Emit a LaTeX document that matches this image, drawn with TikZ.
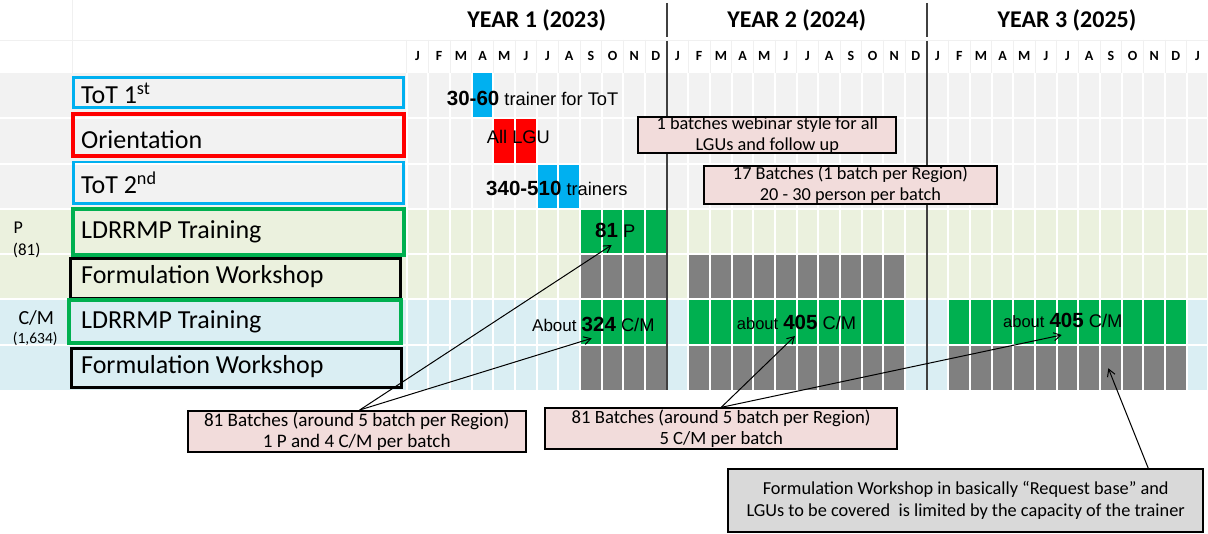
\documentclass[tikz,border=0pt]{standalone}
\usepackage{fontspec}
\setmainfont{Carlito}
\newfontfamily\arialf{Liberation Sans}
\usetikzlibrary{arrows.meta,calc}
\definecolor{rowgray}{HTML}{F2F2F2}
\definecolor{rowgreen}{HTML}{EBF1DE}
\definecolor{rowblue}{HTML}{DAEEF3}
\definecolor{tblue}{HTML}{00B0F0}
\definecolor{tred}{HTML}{FF0000}
\definecolor{tgreen}{HTML}{00B050}
\definecolor{tgray}{HTML}{808080}
\definecolor{pinkc}{HTML}{F2DCDB}
\definecolor{grayc}{HTML}{D9D9D9}
\definecolor{divc}{HTML}{404040}
\definecolor{faint}{HTML}{F0F0F0}
\tikzset{
  lbox/.style={anchor=north west, inner sep=0pt, outer sep=0pt},
  ltext/.style={anchor=base west, inner sep=0pt, font=\fontsize{26}{30}\selectfont},
  cattext/.style={anchor=base west, inner sep=0pt},
  monthlbl/.style={inner sep=0pt, font=\fontsize{14}{16}\selectfont\bfseries},
  yearlbl/.style={inner sep=0pt, font=\fontsize{24}{28}\selectfont\bfseries},
  bartext/.style={anchor=base west, inner sep=0pt, font=\arialf\fontsize{18.3}{20}\selectfont},
  callout/.style={draw=black, line width=2pt, fill=pinkc, align=center, inner sep=0pt,
     font=\fontsize{18.3}{20.5}\selectfont},
  graycallout/.style={draw=black, line width=2pt, fill=grayc, align=center, inner sep=0pt,
     font=\fontsize{18.3}{21.7}\selectfont},
  arr/.style={line width=1pt, -{Straight Barb[length=7pt,width=8pt]}},
  divline/.style={divc, line width=1.8pt},
}
\newcommand{\bnum}[1]{{\fontsize{20.5}{22}\selectfont\bfseries #1}}
\begin{document}
\begin{tikzpicture}[x=1pt,y=-1pt]
\useasboundingbox (0,0) rectangle (1208,534);
\fill[white] (0,0) rectangle (1208,534);
% header faint grid
\draw[faint, line width=0.8pt] (72,0) -- (72,73);
\draw[faint, line width=0.8pt] (0,40) -- (1208,40);
\foreach \i in {0,...,37} {
  \draw[faint, line width=0.8pt] ({406.7+21.667*\i},40) -- ({406.7+21.667*\i},73);
}
% row backgrounds
\fill[rowgray] (0,73) rectangle (1208,208.5);
\fill[rowgreen] (0,208.5) rectangle (1208,299.5);
\fill[rowblue] (0,299.5) rectangle (1208,390);
% bars
\fill[tblue] ({406.7+21.667*3},73) rectangle ++(21.667,45.28);
\foreach \c in {4,5} \fill[tred] ({406.7+21.667*\c},{73+45.28}) rectangle ++(21.667,45.28);
\foreach \c in {6,7} \fill[tblue] ({406.7+21.667*\c},{73+2*45.28}) rectangle ++(21.667,45.28);
\foreach \c in {8,...,11} \fill[tgreen] ({406.7+21.667*\c},{73+3*45.28}) rectangle ++(21.667,45.28);
\foreach \c in {8,...,11,13,14,...,22} \fill[tgray] ({406.7+21.667*\c},{73+4*45.28}) rectangle ++(21.667,45.28);
\foreach \c in {8,...,11,13,14,...,22,25,26,...,35} \fill[tgreen] ({406.7+21.667*\c},{73+5*45.28}) rectangle ++(21.667,45.28);
\foreach \c in {8,...,11,13,14,...,22,25,26,...,35} \fill[tgray] ({406.7+21.667*\c},{73+6*45.28}) rectangle ++(21.667,45.28);
% white grid
\foreach \i in {0,...,37} {
  \draw[white, line width=2pt] ({406.7+21.667*\i},73) -- ({406.7+21.667*\i},390);
}
\foreach \k in {1,...,6} {
  \draw[white, line width=2pt] (0,{73+45.28*\k}) -- (1208,{73+45.28*\k});
}
% year dividers
\draw[divline] (666.7,3) -- (666.7,37);
\draw[divline] (666.7,41) -- (666.7,390);
\draw[divline] (926.7,3) -- (926.7,37);
\draw[divline] (926.7,41) -- (926.7,390);
% year labels
\node[yearlbl] (y1) at (536.7,20) {YEAR 1 (2023)};
\node[yearlbl] (y2) at (796.7,20) {YEAR 2 (2024)};
\node[yearlbl] (y3) at (1067,20) {YEAR 3 (2025)};
% month labels
\foreach \m [count=\i from 0] in {J,F,M,A,M,J,J,A,S,O,N,D,J,F,M,A,M,J,J,A,S,O,N,D,J,F,M,A,M,J,J,A,S,O,N,D,J} {
  \node[monthlbl] (m\i) at ({406.7+21.667*(\i+0.5)},56) {\m};
}
% category labels
\node[cattext, font=\fontsize{18}{20}\selectfont] (catP) at (13.3,233.3) {P};
\node[cattext, font=\fontsize{17}{20}\selectfont] (catPn) at (12.7,255.5) {(81)};
\node[cattext, font=\fontsize{20}{22}\selectfont] (catC) at (18.3,325) {C/M};
\node[cattext, font=\fontsize{15.5}{18}\selectfont] (catCn) at (12.7,343.5) {(1,634)};
% label boxes
\node[lbox, draw=tblue, line width=2.7pt, minimum width=330.2pt, minimum height=30.2pt] (bTot1) at (73.4,77.4) {};
\node[lbox, draw=tred, line width=4pt, minimum width=331.3pt, minimum height=42.6pt] (bOri) at (72.7,113.7) {};
\node[lbox, draw=tblue, line width=2.7pt, minimum width=330.2pt, minimum height=41.6pt] (bTot2) at (73.4,162) {};
\node[lbox, draw=black, line width=3pt, minimum width=330pt, minimum height=40.2pt] (bFwP) at (70.8,258.8) {};
\node[lbox, draw=tgreen, line width=4pt, minimum width=331.3pt, minimum height=46pt] (bLdP) at (72.7,208.7) {};
\node[lbox, draw=tgreen, line width=4pt, minimum width=332pt, minimum height=42.7pt] (bLdC) at (68.7,300.3) {};
\node[lbox, draw=black, line width=3pt, minimum width=330.3pt, minimum height=39.6pt] (bFwC) at (71.5,348.2) {};
\node[ltext] (tTot1) at (81,103.3) {ToT 1\textsuperscript{st}};
\node[ltext] (tOri) at (81,148.3) {Orientation};
\node[ltext] (tTot2) at (81,193.3) {ToT 2\textsuperscript{nd}};
\node[ltext] (tLdP) at (81,238.3) {LDRRMP Training};
\node[ltext] (tFwP) at (81,283.3) {Formulation Workshop};
\node[ltext] (tLdC) at (81,328.3) {LDRRMP Training};
\node[ltext] (tFwC) at (81,373.3) {Formulation Workshop};
% bar texts
\node[bartext] (x1) at (446.7,106) {\bnum{30-60} trainer for ToT};
\node[bartext] (x2) at (486.7,144) {All LGU};
\node[bartext] (x3) at (486,196) {\bnum{340-510} trainers};
\node[bartext] (x4) at (595,237.7) {\bnum{81} P};
\node[bartext] (x5) at (532,331.7) {{\fontsize{17}{20}\selectfont About} \bnum{324} C/M};
\node[bartext] (x6) at (736.7,329.3) {{\fontsize{16.5}{20}\selectfont about} \bnum{405} C/M};
\node[bartext] (x7) at (1003,327.7) {{\fontsize{16.5}{20}\selectfont about} \bnum{405} C/M};
% callouts
\node[callout, minimum width=258pt, minimum height=35.3pt] (c1) at (767.3,135.3) {1 batches webinar style for all\\LGUs and follow up};
\node[callout, minimum width=293.6pt, minimum height=38pt] (c2) at (850.5,185) {17 Batches (1 batch per Region)\\20 - 30 person per batch};
\node[callout, minimum width=338pt, minimum height=41pt, font=\fontsize{19.1}{21}\selectfont] (c3) at (356.7,431.5) {81 Batches (around 5 batch per Region)\\1 P and 4 C/M per batch};
\node[callout, minimum width=352pt, minimum height=40.7pt, font=\fontsize{18.7}{20.5}\selectfont] (c4) at (721.2,428.7) {81 Batches (around 5 batch per Region)\\5 C/M per batch};
\node[graycallout, minimum width=474.7pt, minimum height=62.4pt] (c5) at (965.7,500.5) {Formulation Workshop in basically “Request base” and\\LGUs to be covered\ \ is limited by the capacity of the trainer};
% arrow tips
\coordinate (tip81) at (611.7,245);
\coordinate (tip324) at (591.7,338.3);
\coordinate (tip405a) at (795,336);
\coordinate (tip405b) at (1061.7,335);
\coordinate (tipfw) at (1108.3,368.3);
\coordinate (c5top) at ($(c5.north east)!0.117!(c5.north west)$);
\coordinate (c3top) at ($(c3.north)+(3,0)$);
\draw[arr] (c3top) -- (tip81);
\draw[arr] (c3top) -- (tip324);
\draw[arr] (c4.north) -- (tip405a);
\draw[arr] (c4.north) -- (tip405b);
\draw[arr] (c5top) -- (tipfw);
\end{tikzpicture}
\end{document}
